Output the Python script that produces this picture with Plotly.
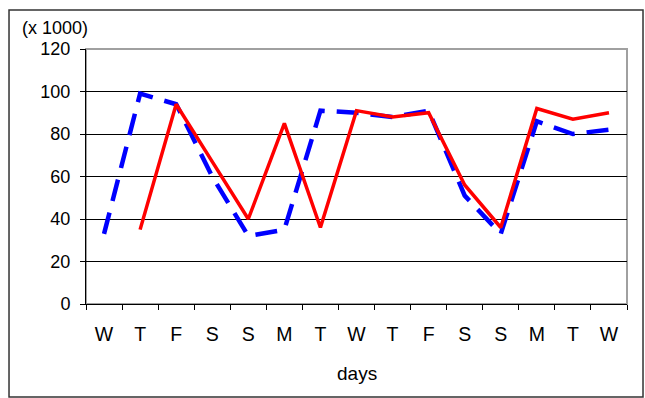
import plotly.graph_objects as go

# Day-of-week labels for the 15 observation days
days = ["W", "T", "F", "S", "S", "M", "T", "W", "T", "F", "S", "S", "M", "T", "W"]
# Counts in thousands
series_blue = [33, 99, 94, 60, 32, 35, 91, 90, 88, 91, 51, 33, 86, 80, 82]
series_red = [None, 35, 94, 67, 40, 85, 36, 91, 88, 90, 56, 36, 92, 87, 90]
y_ticks = [0, 20, 40, 60, 80, 100, 120]

x_pos = list(range(len(days)))
font = dict(family="Liberation Sans, Arial, sans-serif", color="black")

fig = go.Figure()
fig.add_trace(go.Scatter(
    x=x_pos, y=series_blue, mode="lines",
    line=dict(color="#0000ff", width=4.5, dash="22px,12px"),
    showlegend=False, hoverinfo="skip"))
fig.add_trace(go.Scatter(
    x=x_pos, y=series_red, mode="lines",
    line=dict(color="#ff0000", width=3.5),
    showlegend=False, hoverinfo="skip", connectgaps=False))

fig.update_layout(
    width=645, height=398,
    margin=dict(l=86, r=18, t=49, b=94),
    paper_bgcolor="white", plot_bgcolor="white",
    font=dict(size=18, **font),
    xaxis=dict(
        range=[-0.5, len(days) - 0.5],
        tickmode="array", tickvals=x_pos, ticktext=days,
        ticks="", showgrid=False, zeroline=False,
        showline=True, linecolor="black", linewidth=1,
        ticklabelstandoff=13,
        minor=dict(tickmode="linear", tick0=-0.5, dtick=1, ticks="outside",
                   ticklen=5, tickcolor="black", tickwidth=1, showgrid=False),
        tickfont=dict(size=19.5),
    ),
    yaxis=dict(
        range=[0, 120], tickmode="array", tickvals=y_ticks,
        ticks="outside", ticklen=5, tickcolor="black",
        showgrid=True, gridcolor="black", gridwidth=1,
        showline=True, linecolor="black", linewidth=1, zeroline=False,
        ticklabelstandoff=6,
        tickfont=dict(size=18),
    ),
    shapes=[
        # plot-area frame (grey on top and right)
        dict(type="rect", xref="paper", yref="paper", x0=0, x1=1, y0=0, y1=1,
             line=dict(color="#a0a0a0", width=2), layer="below"),
        # outer chart border
        dict(type="rect", xref="paper", yref="paper",
             x0=-0.1423, x1=1.0296, y0=-0.365, y1=1.153,
             line=dict(color="#333333", width=1.5), layer="below"),
    ],
    annotations=[
        dict(text="(x 1000)", xref="paper", yref="paper", x=-0.0573, y=1.082,
             xanchor="center", yanchor="middle", showarrow=False,
             font=dict(size=18), borderpad=0),
        dict(text="days", xref="paper", yref="paper", x=0.5, y=-0.2745,
             xanchor="center", yanchor="middle", showarrow=False,
             font=dict(size=19)),
    ],
)

fig.write_html("out.html")
